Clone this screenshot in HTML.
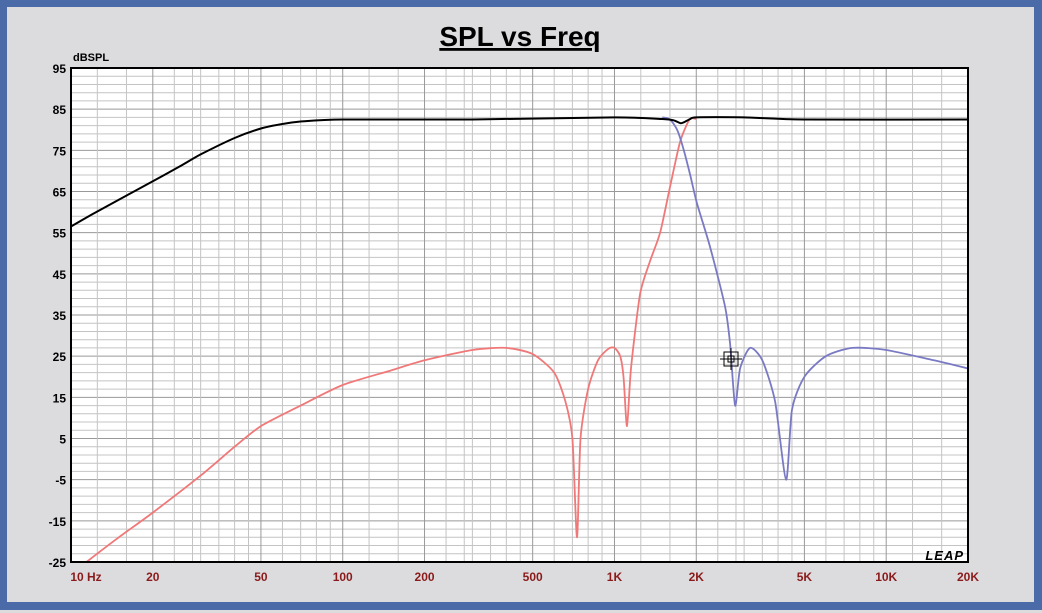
<!DOCTYPE html>
<html><head><meta charset="utf-8"><style>
html,body{margin:0;padding:0;background:#dcdcdf;}
svg{display:block;font-family:"Liberation Sans",Arial,sans-serif;}
</style></head><body>
<svg id="c" width="1042" height="613" viewBox="0 0 1042 613" xmlns="http://www.w3.org/2000/svg">
<rect x="0" y="0" width="1042" height="613" fill="#4a6aa8"/>
<rect x="7" y="7" width="1027" height="595" fill="#dcdcdf"/>
<rect x="0" y="610" width="1042" height="3" fill="#dcdcdf"/>
<text x="520" y="46" text-anchor="middle" font-size="28" font-weight="bold" text-decoration="underline" fill="#000">SPL vs Freq</text>
<text x="73" y="61" font-size="11" font-weight="bold" fill="#000">dBSPL</text>
<rect x="71" y="68" width="897" height="494" fill="#fff"/>
<g id="grid"></g>
<g id="series"></g>
<rect x="71" y="68" width="897" height="494" fill="none" stroke="#000" stroke-width="2"/>
<g id="labels"></g>
<g transform="translate(731,359)" stroke="#000" fill="none" stroke-width="1">
<rect x="-7" y="-7" width="14" height="14"/><rect x="-3" y="-3" width="6" height="6"/><line x1="-11" y1="0" x2="11" y2="0"/><line x1="0" y1="-11" x2="0" y2="11"/>
</g>
<text x="964" y="560" text-anchor="end" font-size="13" font-weight="bold" font-style="italic" letter-spacing="1" fill="#000">LEAP</text>
</svg>
<script>
const yTicks=[95,85,75,65,55,45,35,25,15,5,-5,-15,-25];
const xTickVals=[10,20,50,100,200,500,1000,2000,5000,10000,20000];
const xTickLabels=["10  Hz","20","50","100","200","500","1K","2K","5K","10K","20K"];
const totalF=[10,12,15,20,25,30,40,50,60,70,100,300,1000,1500,1650,1750,1800,1900,2000,3000,5000,20000];
const totalDb=[56.5,59.5,63,67.5,71,74,78,80.3,81.4,82,82.5,82.5,83,82.6,82.3,81.6,81.8,82.6,83,83,82.5,82.5];
const redF=[11.4,15,20,30,40,50,70,100,150,200,300,400,500,600,660,700,728,750,800,870,950,1000,1050,1080,1112,1150,1242,1350,1472,1600,1743,1890,2000];
const redDb=[-25,-19,-13,-4,3,8,13,18,21.5,24,26.5,27,25.5,21,14,5,-19,5,17,24,26.8,27,25,20,8,22,40,48,55,66,77,82.5,82.6];
const blueF=[1500,1600,1700,1800,1900,2014,2249,2553,2663,2780,2900,3155,3500,3900,4280,4500,5000,6000,7500,10000,15000,20000];
const blueDb=[83,82.5,80,75,69,62,51.5,37,28,13,22,27,24,14,-5,12,20,25,27,26.5,24,22];
const X0=71,X1=968,Y0=68,Y1=562;
const ns="http://www.w3.org/2000/svg";
function xs(f){return X0+(Math.log10(f)-1)*(X1-X0)/Math.log10(2000);}
function ys(d){return Y0+(95-d)*(Y1-Y0)/120;}
function mk(t,a,p){const e=document.createElementNS(ns,t);for(const k in a)e.setAttribute(k,a[k]);p.appendChild(e);return e;}
const grid=document.getElementById('grid');
for(let d=-25;d<=95;d+=2){const major=((d+25)%10===0);
const l=mk('line',{x1:X0,x2:X1,y1:ys(d),y2:ys(d),stroke:major?'#999':'#c4c4c4','stroke-width':1},grid);

}
const mult=[1.25,1.6,2,2.4,2.8,3,3.5,4,4.5,5,6,7,8,9,10];
for(const dec of [10,100,1000,10000]){for(const m of mult){const f=dec*m;if(f>20000)continue;
const major=(m===10||m===2||m===5);
const l=mk('line',{x1:xs(f),x2:xs(f),y1:Y0,y2:Y1,stroke:major?'#999':'#c4c4c4','stroke-width':1},grid);

}}
const lab=document.getElementById('labels');
yTicks.forEach(v=>{const t=mk('text',{x:66,y:ys(v)+5,'text-anchor':'end','font-size':12,'font-weight':'bold',fill:'#000'},lab);t.textContent=v;

});
xTickVals.forEach((v,i)=>{const t=mk('text',{x:xs(v)+(i===0?15:0),y:581,'text-anchor':'middle','font-size':12,'font-weight':'bold',fill:'#8b1a1a','xml:space':'preserve'},lab);t.textContent=xTickLabels[i];

});
const ser=document.getElementById('series');
function line(F,D,col,w,name){
const P=F.map((f,i)=>[xs(f),ys(D[i])]);
let d='M'+P[0][0].toFixed(1)+','+P[0][1].toFixed(1);
const k=0.12;
for(let i=0;i<P.length-1;i++){const p0=P[i-1]||P[i],p1=P[i],p2=P[i+1],p3=P[i+2]||P[i+1];
const c1=[p1[0]+(p2[0]-p0[0])*k,p1[1]+(p2[1]-p0[1])*k],c2=[p2[0]-(p3[0]-p1[0])*k,p2[1]-(p3[1]-p1[1])*k];
d+=' C'+c1.map(v=>v.toFixed(1)).join(',')+' '+c2.map(v=>v.toFixed(1)).join(',')+' '+p2.map(v=>v.toFixed(1)).join(',');}
const e=mk('path',{d:d,fill:'none',stroke:col,'stroke-width':w,'stroke-linejoin':'round'},ser);

}
line(redF,redDb,'#f07878',1.8,'woofer-response-line');
line(blueF,blueDb,'#7a7ac4',1.8,'tweeter-response-line');
line(totalF,totalDb,'#000',2,'total-response-line');
</script>
</body></html>
